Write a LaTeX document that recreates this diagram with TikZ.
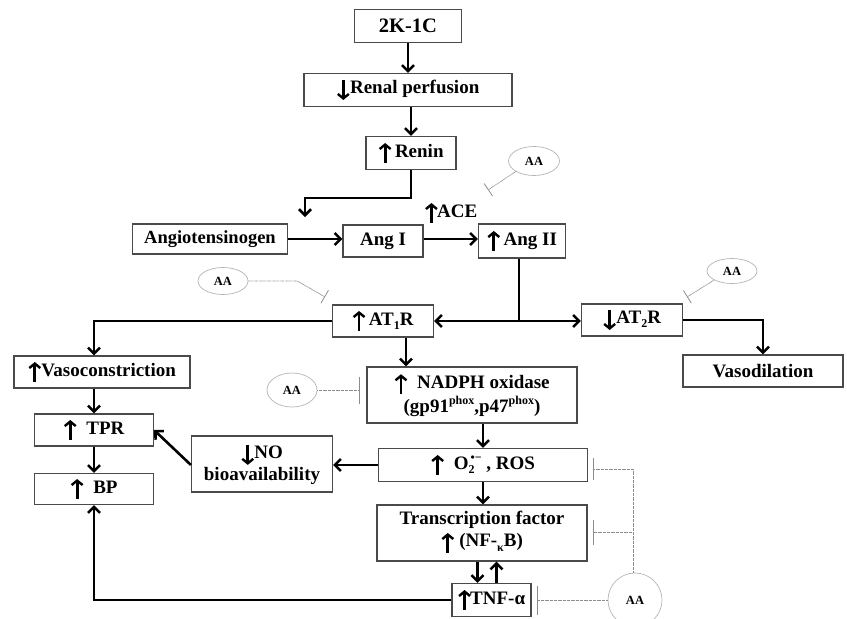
\documentclass[tikz,border=0pt]{standalone}
\usepackage{fontspec}
\setmainfont{Liberation Serif}
\usetikzlibrary{arrows.meta,positioning,shapes.geometric}
\definecolor{edge}{HTML}{4A4A4A}
\definecolor{aagray}{HTML}{B4B4B4}
\definecolor{dotgray}{HTML}{8C8C8C}
\newcommand{\upar}{\tikz[x=1pt,y=1pt,baseline=0pt]{\path (0,0) -- (12,0);
  \draw[line width=2.8pt,-{Straight Barb[length=4.5pt,width=11pt,line width=2.4pt]}] (6,-6) -- (6,14);}}
\newcommand{\dnar}{\tikz[x=1pt,y=1pt,baseline=0pt]{\path (0,0) -- (12,0);
  \draw[line width=2.8pt,-{Straight Barb[length=4.5pt,width=11pt,line width=2.4pt]}] (6,13.5) -- (6,-6.5);}}
\newcommand{\supr}[1]{\raisebox{0.42em}{\fontsize{12}{12}\selectfont #1}}
\newcommand{\subr}[1]{\raisebox{-0.22em}{\fontsize{12}{12}\selectfont #1}}

\begin{document}
\begin{tikzpicture}[x=1pt,y=-1pt,>={Straight Barb[length=6pt,width=12pt]},
  box/.style={draw=edge,line width=1.1pt,inner sep=0pt,align=center,font=\fontsize{19}{22}\selectfont\bfseries},
  aa/.style={ellipse,draw=aagray,line width=0.7pt,inner sep=0pt,font=\fontsize{12.5}{12.5}\selectfont\bfseries},
  flow/.style={->,line width=2.6pt},
  link/.style={line width=2.6pt},
  block/.style={-{Bar[width=#1,line width=0.8pt]},draw=dotgray,line width=0.8pt,dash pattern=on 0.7pt off 0.6pt},
  block/.default=15pt]
        \useasboundingbox (0,0) rectangle (847,619);
        % main cascade
        \node[box,minimum width=107pt,minimum height=33pt,font=\fontsize{20.5}{22}\selectfont\bfseries] (kc) at (408,26) {2K-1C};
        \node[box,minimum width=208pt,minimum height=33pt] (rp) at (408,90) {\dnar Renal perfusion};
        \node[box,minimum width=90pt,minimum height=33pt] (rn) at (411,153) {\upar\,Renin};
        \node[box,minimum width=155pt,minimum height=30pt,font=\fontsize{18.5}{22}\selectfont\bfseries] (ag) at (210,239) {Angiotensinogen};
        \node[box,minimum width=80pt,minimum height=32pt] (a1) at (383,241) {Ang I};
        \node[box,minimum width=87pt,minimum height=34pt] (a2) at (522,241) {\upar\,Ang II};
        \node[font=\fontsize{19}{22}\selectfont\bfseries,inner sep=0pt] (ace) at (451,213) {\upar\kern-1pt ACE};
        \node[box,minimum width=101pt,minimum height=32pt] (at1) at (383,321) {\upar\,AT\subr{1}R};
        \node[box,minimum width=101pt,minimum height=32pt] (at2) at (632,320) {\dnar AT\subr{2}R};
        \node[box,minimum width=160pt,minimum height=32pt] (vd) at (763,371) {Vasodilation};
        \node[box,minimum width=176pt,minimum height=32pt] (vc) at (102,372) {\upar Vasoconstriction};
        \node[box,minimum width=119pt,minimum height=32pt] (tp) at (94,430) {\upar\ \ TPR};
        \node[box,minimum width=119pt,minimum height=31pt] (bp) at (94,489) {\upar\ \ BP};
        \node[box,minimum width=141pt,minimum height=56pt] (no) at (262,464) {\dnar NO\\bioavailability};
        \node[box,minimum width=210pt,minimum height=56pt] (np) at (472,395) {\upar\ \ NADPH oxidase\\(gp91\supr{phox},p47\supr{phox})};
        \node[box,minimum width=209pt,minimum height=33pt] (ro) at (483,465) {\upar\ \ O\rlap{\subr{2}}\supr{\,•−} , ROS};
        \node[box,minimum width=210pt,minimum height=56pt] (tf) at (482,533) {Transcription factor\\\upar\ (NF-\subr{κ}B)};
        \node[box,minimum width=79pt,minimum height=33pt] (tn) at (491.5,600) {\upar\kern-1pt TNF-α};
        % AA labels
        \node[aa,minimum width=51pt,minimum height=29pt] (aa1) at (534,161) {AA};
        \node[aa,minimum width=50pt,minimum height=27pt] (aa2) at (223,281) {AA};
        \node[aa,minimum width=50pt,minimum height=25pt] (aa3) at (732,271) {AA};
        \node[aa,minimum width=50pt,minimum height=34pt] (aa4) at (292,390) {AA};
        \node[aa,circle,minimum size=54pt] (aa5) at (635,600) {AA};
        \coordinate (rk) at (305,198);
        \coordinate (rt) at (305,217);
        \coordinate (sp) at (519,321);
        \coordinate (ih1) at (488,190);
        \coordinate (ih2) at (325,297);
        \coordinate (ih3) at (687,297);
        \coordinate (ih4) at (360,390);
        \coordinate (ih5) at (537,600);
        \coordinate (ih6) at (593,469);
        \coordinate (ih7) at (593,532);
        % connectors
        \draw[flow] (kc) -- (rp);
        \draw[flow] (rn.north |- rp.south) -- (rn.north);
        \draw[flow] (rn.south) |- (rk) -- (rt);
        \draw[flow] (ag.east) -- (ag.east -| a1.west);
        \draw[flow] (a1.east |- ag.east) -- (a2.west |- ag.east);
        \draw[link] (a2.south -| sp) -- (sp);
        \draw[flow] (sp) -- (at1.east);
        \draw[flow] (sp) -- (sp -| at2.west);
        \draw[flow] (at2.east) -| (vd.north);
        \draw[flow] (at1.west) -| ([xshift=-8pt]vc.north);
        \draw[flow] (vc.south -| tp.north) -- (tp.north);
        \draw[flow] (tp) -- (bp);
        \draw[flow] ([xshift=23pt]at1.south) -- ([xshift=23pt]at1.south |- np.north);
        \draw[flow] (np.south -| ro.north) -- (ro.north);
        \draw[flow] (ro.south) -- (ro.south |- tf.north);
        \draw[flow] ([xshift=-14pt]tn.north |- tf.south) -- ([xshift=-14pt]tn.north);
        \draw[flow] ([xshift=5pt]tn.north) -- ([xshift=5pt]tn.north |- tf.south);
        \draw[flow] (ro.west) -- (ro.west -| no.east);
        \draw[flow] ([yshift=-1pt]no.west) -- (tp.east);
        \draw[flow] (tn.west) -| (bp.south);
        % inhibition by AA
        \draw[block] (aa1.south west) -- (ih1);
        \draw[block] (aa2.east) -- ++(49,0) -- (ih2);
        \draw[block] (aa3.south west) -- (ih3);
        \draw[block=27pt] (aa4.east) -- (ih4);
        \draw[block=29pt] (aa5.west) -- (ih5);
        \draw[block=22pt] ([xshift=-2pt]aa5.north) |- (ih6);
        \draw[block=25pt] ([xshift=-2pt]aa5.north) |- (ih7);
      \end{tikzpicture}
\end{document}
